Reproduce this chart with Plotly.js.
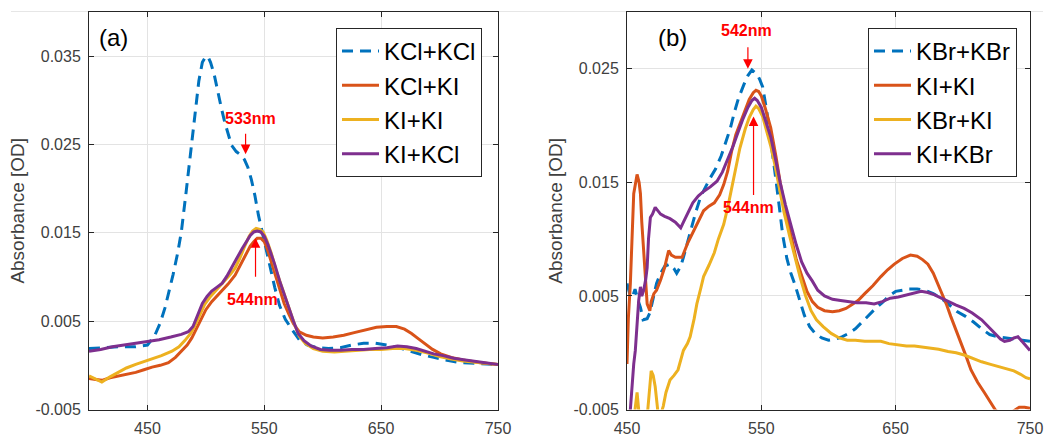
<!DOCTYPE html>
<html>
<head>
<meta charset="utf-8">
<script src="https://cdn.plot.ly/plotly-3.0.1.min.js"></script>
<style>
  html, body { margin: 0; padding: 0; background: #fff; }
  #chart { width: 1048px; height: 437px; }
</style>
</head>
<body>
<div id="chart"></div>
<script>
// ---------- Panel (a) ----------
const aKClKCl_x = [400,410,425,440,450,456,461,465,469,472,476,479,483,486,488,491,494,497,500,502,504,507,510,513,516,519,522,526,530,533,536,539,542,545,548,551,555,559,563,568,574,580,587,595,605,615,625,635,645,655,665,675,685,695,705,718,730,740,750];
const aKClKCl_y = [0.0019,0.0020,0.0021,0.0021,0.0023,0.0033,0.0048,0.0065,0.0085,0.0103,0.0128,0.0151,0.0195,0.0230,0.0256,0.0292,0.0322,0.0343,0.0350,0.0349,0.0343,0.0330,0.0310,0.0293,0.0276,0.0262,0.0249,0.0242,0.0238,0.0233,0.0224,0.0210,0.0192,0.0170,0.0152,0.0133,0.0110,0.0088,0.0068,0.0052,0.0040,0.0029,0.0023,0.0020,0.0019,0.0020,0.0023,0.0025,0.0025,0.0023,0.0020,0.0016,0.0012,0.0009,0.0006,0.0003,0.0002,0.0001,0.0001];

const aKClKI_x = [400,405,411,418,425,432,440,447,454,461,468,474,479,484,488,492,496,500,505,510,514,519,525,530,534,538,541,544,547,550,553,556,559,563,567,571,575,580,586,592,600,609,618,627,637,646,655,663,670,676,682,688,694,701,710,720,735,750];
const aKClKI_y = [-0.0015,-0.0016,-0.0017,-0.0014,-0.0012,-0.0010,-0.0008,-0.0005,-0.0002,0.0000,0.0003,0.0009,0.0016,0.0023,0.0031,0.0042,0.0053,0.0063,0.0072,0.0079,0.0084,0.0092,0.0102,0.0115,0.0126,0.0135,0.0140,0.0144,0.0144,0.0140,0.0130,0.0117,0.0102,0.0085,0.0070,0.0058,0.0047,0.0038,0.0034,0.0032,0.0031,0.0032,0.0034,0.0037,0.0040,0.0043,0.0044,0.0044,0.0041,0.0036,0.0030,0.0024,0.0018,0.0013,0.0009,0.0006,0.0003,0.0001];

const aKIKI_x = [400,405,411,418,425,432,440,447,454,462,471,477,482,487,491,495,499,504,508,512,516,521,525,529,533,537,540,543,546,549,552,556,560,564,568,572,576,580,585,592,600,610,620,630,640,650,660,670,680,690,700,710,720,735,750];
const aKIKI_y = [-0.0012,-0.0015,-0.0019,-0.0013,-0.0008,-0.0003,0.0001,0.0004,0.0007,0.0011,0.0016,0.0021,0.0028,0.0036,0.0046,0.0057,0.0069,0.0078,0.0084,0.0089,0.0095,0.0103,0.0110,0.0121,0.0134,0.0146,0.0152,0.0155,0.0154,0.0151,0.0142,0.0127,0.0108,0.0092,0.0078,0.0062,0.0046,0.0033,0.0025,0.0019,0.0016,0.0015,0.0016,0.0017,0.0018,0.0018,0.0019,0.0019,0.0017,0.0014,0.0010,0.0007,0.0005,0.0003,0.0001];

const aKIKCl_x = [400,410,420,430,440,450,460,470,479,485,489,493,497,501,505,509,514,518,522,526,531,535,538,541,544,547,550,553,556,559,563,567,571,575,579,584,590,598,606,615,625,635,645,655,664,672,680,688,695,703,712,722,735,750];
const aKIKCl_y = [0.0016,0.0018,0.0021,0.0023,0.0025,0.0027,0.0029,0.0032,0.0035,0.0038,0.0044,0.0057,0.0070,0.0078,0.0084,0.0088,0.0093,0.0101,0.0110,0.0120,0.0132,0.0141,0.0147,0.0151,0.0152,0.0151,0.0146,0.0137,0.0126,0.0114,0.0096,0.0080,0.0066,0.0050,0.0036,0.0028,0.0022,0.0018,0.0017,0.0017,0.0018,0.0018,0.0019,0.0020,0.0022,0.0021,0.0019,0.0016,0.0013,0.0011,0.0008,0.0006,0.0004,0.0001];

// ---------- Panel (b) ----------
const bKBrKBr_x = [450,452,454,456,458,460,462,465,467,470,472,475,478,482,485,487,490,492,495,497,501,505,509,512,516,520,524,527,530,533,537,540,543,545,547,549,551,554,557,560,563,566,569,572,575,578,582,586,590,595,600,605,610,615,620,625,630,635,640,645,650,655,660,666,672,678,684,690,696,702,708,714,720,726,732,740,750];
const bKBrKBr_y = [0.0061,0.0052,0.0049,0.0056,0.0047,0.0040,0.0029,0.0030,0.0035,0.0050,0.0061,0.0070,0.0076,0.0078,0.0074,0.0070,0.0076,0.0084,0.0097,0.0107,0.0123,0.0138,0.0148,0.0154,0.0162,0.0173,0.0187,0.0198,0.0212,0.0224,0.0236,0.0244,0.0249,0.0247,0.0245,0.0240,0.0234,0.0213,0.0188,0.0160,0.0132,0.0103,0.0083,0.0070,0.0060,0.0048,0.0033,0.0023,0.0017,0.0013,0.0011,0.0012,0.0014,0.0017,0.0021,0.0027,0.0033,0.0039,0.0044,0.0050,0.0054,0.0055,0.0056,0.0056,0.0055,0.0052,0.0048,0.0042,0.0036,0.0032,0.0027,0.0021,0.0016,0.0014,0.0013,0.0012,0.0010];

const bKIKI_x = [450,451,452.5,454,455,456.5,457.5,459,460,461,462.4,464,465,467,468,470,472,475,478,481,483,486,491,495,499,502,507,511,515,519,522,525,528,531,535,538,541,544,546,548,550,553,557,561,564,568,572,576,580,584,588,592,597,603,608,613,617,622,627,633,639,644,649,655,661,666,670,674,678,681,684,688,691,695,699,703,706,711,716,720,724,728,733,738,742,746,750];
const bKIKI_y = [-0.0010,0.0030,0.0061,0.0110,0.0140,0.0150,0.0157,0.0150,0.0140,0.0115,0.0090,0.0060,0.0043,0.0037,0.0045,0.0052,0.0055,0.0064,0.0075,0.0090,0.0086,0.0084,0.0084,0.0096,0.0106,0.0113,0.0125,0.0129,0.0132,0.0139,0.0148,0.0160,0.0178,0.0192,0.0205,0.0215,0.0223,0.0229,0.0231,0.0230,0.0226,0.0215,0.0198,0.0172,0.0150,0.0125,0.0104,0.0082,0.0068,0.0054,0.0045,0.0040,0.0037,0.0036,0.0037,0.0039,0.0042,0.0046,0.0052,0.0059,0.0067,0.0073,0.0078,0.0083,0.0086,0.0085,0.0082,0.0078,0.0070,0.0062,0.0054,0.0042,0.0032,0.0020,0.0008,-0.0005,-0.0015,-0.0026,-0.0035,-0.0043,-0.0050,-0.0055,-0.0056,-0.0051,-0.0048,-0.0048,-0.0049];

const bKBrKI_x = [450,454,456,457.5,459,461,464,466,468,469.5,471,473,475,477,479,482,485,488,490,492,495,497,500,502,505,507,511,515,518,522,525,528,531,534,538,541,544,546,548,551,554,557,560,563,567,571,575,579,583,587,591,596,602,608,614,620,627,633,639,645,652,658,664,670,676,682,689,695,701,707,714,720,726,732,738,743,747,750];
const bKBrKI_y = [-0.0090,-0.0065,-0.0050,-0.0035,-0.0052,-0.0080,-0.0070,-0.0040,-0.0016,-0.0020,-0.0030,-0.0052,-0.0055,-0.0047,-0.0035,-0.0024,-0.0020,-0.0015,-0.0006,0.0002,0.0008,0.0014,0.0030,0.0043,0.0057,0.0067,0.0077,0.0088,0.0100,0.0113,0.0128,0.0145,0.0163,0.0180,0.0197,0.0207,0.0214,0.0217,0.0215,0.0208,0.0195,0.0182,0.0166,0.0146,0.0123,0.0103,0.0084,0.0066,0.0050,0.0037,0.0029,0.0023,0.0017,0.0013,0.0011,0.0011,0.0010,0.0010,0.0010,0.0008,0.0007,0.0006,0.0006,0.0005,0.0004,0.0003,0.0001,0.0000,-0.0002,-0.0005,-0.0008,-0.0010,-0.0012,-0.0014,-0.0016,-0.0019,-0.0022,-0.0023];

const bKIKBr_x = [450,452.5,453.7,455,456.2,457.5,458.7,460,461,462.4,464,465,466,467.4,469,471,473,475,478,482,486,490,492,495,499,503,507,512,517,521,525,529,532,536,540,543,545,547,550,553,557,561,564,568,572,576,580,584,588,592,597,603,609,615,621,628,634,640,646,652,659,664,669,674,679,684,689,695,701,707,714,719,724,728,731,735,738,741,744,747,750];
const bKIKBr_y = [-0.0090,-0.0050,-0.0027,-0.0010,0.0002,0.0030,0.0046,0.0058,0.0050,0.0055,0.0065,0.0075,0.0100,0.0119,0.0122,0.0128,0.0125,0.0122,0.0120,0.0118,0.0115,0.0110,0.0115,0.0122,0.0132,0.0138,0.0142,0.0146,0.0151,0.0159,0.0170,0.0182,0.0192,0.0205,0.0216,0.0222,0.0224,0.0222,0.0216,0.0205,0.0190,0.0168,0.0150,0.0130,0.0112,0.0095,0.0080,0.0070,0.0063,0.0055,0.0050,0.0047,0.0046,0.0045,0.0044,0.0044,0.0043,0.0045,0.0048,0.0049,0.0051,0.0053,0.0054,0.0053,0.0051,0.0048,0.0045,0.0042,0.0039,0.0035,0.0029,0.0023,0.0017,0.0012,0.0010,0.0011,0.0013,0.0014,0.0010,0.0006,0.0002];

// ---------- Axes / labels ----------
const xTicksA = [450, 550, 650, 750];
const xTicksB = [450, 550, 650, 750];
const yTicksA = [-0.005, 0.005, 0.015, 0.025, 0.035];
const yTicksB = [-0.005, 0.005, 0.015, 0.025];
const yTickTextA = ['-0.005', '0.005', '0.015', '0.025', '0.035'];
const yTickTextB = ['-0.005', '0.005', '0.015', '0.025'];
const namesA = ['KCl+KCl', 'KCl+KI', 'KI+KI', 'KI+KCl'];
const namesB = ['KBr+KBr', 'KI+KI', 'KBr+KI', 'KI+KBr'];
const yTitle = 'Absorbance [OD]';

const C_BLUE = '#0072BD', C_ORANGE = '#D95319', C_YELLOW = '#EDB120', C_PURPLE = '#7E2F8E';
const FONT = 'Liberation Sans, Arial, Helvetica, sans-serif';
const LW = 3;

function tr(x, y, name, color, dash, xa, ya, leg) {
  return {
    type: 'scatter', mode: 'lines', x: x, y: y, name: name,
    xaxis: xa, yaxis: ya, legend: leg,
    line: { color: color, width: LW, dash: dash || 'solid' },
    hoverinfo: 'skip'
  };
}

const data = [
  tr(aKClKCl_x, aKClKCl_y, namesA[0], C_BLUE, '11px,7px', 'x', 'y', 'legend'),
  tr(aKClKI_x, aKClKI_y, namesA[1], C_ORANGE, null, 'x', 'y', 'legend'),
  tr(aKIKI_x, aKIKI_y, namesA[2], C_YELLOW, null, 'x', 'y', 'legend'),
  tr(aKIKCl_x, aKIKCl_y, namesA[3], C_PURPLE, null, 'x', 'y', 'legend'),
  tr(bKBrKBr_x, bKBrKBr_y, namesB[0], C_BLUE, '11px,7px', 'x2', 'y2', 'legend2'),
  tr(bKIKI_x, bKIKI_y, namesB[1], C_ORANGE, null, 'x2', 'y2', 'legend2'),
  tr(bKBrKI_x, bKBrKI_y, namesB[2], C_YELLOW, null, 'x2', 'y2', 'legend2'),
  tr(bKIKBr_x, bKIKBr_y, namesB[3], C_PURPLE, null, 'x2', 'y2', 'legend2')
];

const W = 1048, H = 437;
const px = v => v / W;
const py = v => 1 - v / H;

const axisCommon = {
  showgrid: true, gridcolor: '#e3e3e3', gridwidth: 1,
  zeroline: false, showline: true, linecolor: '#262626', linewidth: 1,
  mirror: 'ticks', ticks: 'inside', ticklen: 5, tickcolor: '#262626',
  tickfont: { family: FONT, size: 16, color: '#404040' },
  fixedrange: true, automargin: false
};

const legendCommon = {
  xanchor: 'left', yanchor: 'top',
  bgcolor: '#ffffff', bordercolor: '#262626', borderwidth: 1,
  font: { family: FONT, size: 24, color: '#000000' },
  itemwidth: 37, tracegroupgap: 0
};

function arrow(xref, yref, x, y, ay) {
  return { xref: xref, yref: yref, x: x, y: y, ax: 0, ay: ay, text: '',
    showarrow: true, arrowcolor: '#ff0000', arrowwidth: 1.2, arrowhead: 2, arrowsize: 1.6, standoff: 0 };
}
function label(xref, yref, x, y, t) {
  return { xref: xref, yref: yref, x: x, y: y, text: '<b>' + t + '</b>', showarrow: false,
    font: { family: FONT, size: 16, color: '#ff0000' }, xanchor: 'center', yanchor: 'middle' };
}

const layout = {
  width: W, height: H,
  margin: { l: 0, r: 0, t: 0, b: 0 },
  paper_bgcolor: '#ffffff', plot_bgcolor: '#ffffff',
  showlegend: true,
  font: { family: FONT },
  xaxis: Object.assign({}, axisCommon, {
    domain: [px(89), px(498)], range: [400, 750], tickvals: xTicksA, anchor: 'y', ticklabelstandoff: 4
  }),
  yaxis: Object.assign({}, axisCommon, {
    domain: [py(409.5), py(12)], range: [-0.005, 0.04], tickvals: yTicksA, ticktext: yTickTextA,
    anchor: 'x', ticklabelstandoff: 4,
    title: { text: yTitle, font: { family: FONT, size: 19, color: '#404040' }, standoff: 5 }
  }),
  xaxis2: Object.assign({}, axisCommon, {
    domain: [px(627), px(1030)], range: [450, 750], tickvals: xTicksB, anchor: 'y2', ticklabelstandoff: 4
  }),
  yaxis2: Object.assign({}, axisCommon, {
    domain: [py(409.5), py(12)], range: [-0.005, 0.03], tickvals: yTicksB, ticktext: yTickTextB,
    anchor: 'x2', ticklabelstandoff: 4,
    title: { text: yTitle, font: { family: FONT, size: 19, color: '#404040' }, standoff: 5 }
  }),
  legend: Object.assign({}, legendCommon, { x: px(336), y: py(28) }),
  legend2: Object.assign({}, legendCommon, { x: px(868), y: py(28) }),
  shapes: [
    { type: 'line', xref: 'paper', yref: 'paper', x0: px(11), x1: px(1043), y0: py(11.5), y1: py(11.5),
      line: { color: '#e6e6e6', width: 1 }, layer: 'below' }
  ],
  annotations: [
    { xref: 'paper', yref: 'paper', x: px(113), y: py(37), text: '(a)', showarrow: false,
      font: { family: FONT, size: 24, color: '#000' }, xanchor: 'center', yanchor: 'middle' },
    { xref: 'paper', yref: 'paper', x: px(672), y: py(38), text: '(b)', showarrow: false,
      font: { family: FONT, size: 24, color: '#000' }, xanchor: 'center', yanchor: 'middle' },
    label('x', 'y', 538, 0.0280, '533nm'),
    arrow('x', 'y', 534, 0.0239, -22),
    label('x', 'y', 539.5, 0.0074, '544nm'),
    arrow('x', 'y', 542.5, 0.0144, 40),
    label('x2', 'y2', 539.3, 0.0284, '542nm'),
    arrow('x2', 'y2', 540, 0.0250, -23),
    label('x2', 'y2', 540.5, 0.0128, '544nm'),
    arrow('x2', 'y2', 544.2, 0.0208, 80)
  ]
};

Plotly.newPlot('chart', data, layout, { displayModeBar: false, staticPlot: true });
</script>
</body>
</html>
